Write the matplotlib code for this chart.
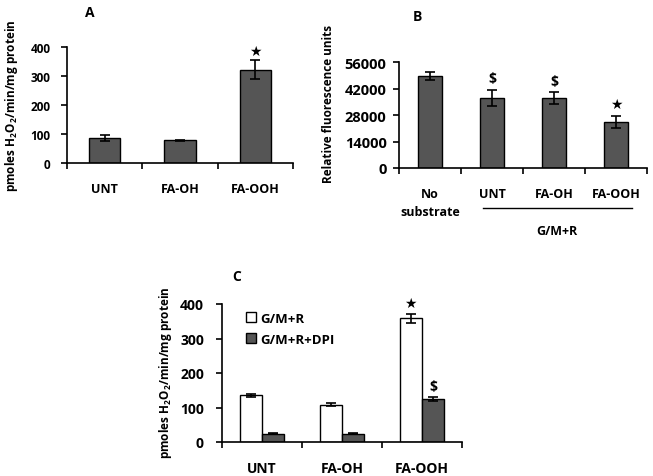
"""Three-panel H2O2 / fluorescence bar figure"""

import matplotlib
matplotlib.use('Agg')
import matplotlib.pyplot as plt
import numpy as np

plt.rcParams['font.family'] = ['Open Sans', 'DejaVu Sans']
plt.rcParams['font.weight'] = 'bold'
plt.rcParams['axes.labelweight'] = 'bold'
plt.rcParams['mathtext.default'] = 'regular'

# Panel A
a_labels = ['UNT', 'FA-OH', 'FA-OOH']
a_values = [85, 78, 322]
a_errors = [10, 3, 32]
a_marks = ['', '', '★']

# Panel B
b_labels = ['No\nsubstrate', 'UNT', 'FA-OH', 'FA-OOH']
b_values = [48600, 36900, 36900, 24200]
b_errors = [2300, 4200, 3000, 3300]
b_marks = ['', '$', '$', '★']
b_ticks = [0, 14000, 28000, 42000, 56000]

# Panel C
c_labels = ['UNT', 'FA-OH', 'FA-OOH']
c_gmr = [135, 108, 358]
c_gmr_err = [5, 5, 14]
c_dpi = [24, 24, 125]
c_dpi_err = [2, 1, 6]
c_marks_gmr = ['', '', '★']
c_marks_dpi = ['', '', '$']

W, H = 653, 477
bar_color = '#555555'
ylabel_h2o2 = 'pmoles H$_2$O$_2$/min/mg protein'


def make_axes(fig, left, right, bottom, top, ytick_fs, xtick_fs, ytick_pad):
    """Axes placed by pixel edges (top-left origin)."""
    ax = fig.add_axes([left / W, 1 - bottom / H, (right - left) / W, (bottom - top) / H])
    for s in ['top', 'right']:
        ax.spines[s].set_visible(False)
    for s in ['left', 'bottom']:
        ax.spines[s].set_linewidth(1.2)
    ax.tick_params(axis='y', direction='out', length=4, width=1.2, labelsize=ytick_fs, pad=ytick_pad)
    ax.tick_params(axis='x', which='major', length=0, labelsize=xtick_fs, pad=14)
    ax.tick_params(axis='x', which='minor', direction='out', length=4, width=1.2)
    return ax


def set_categories(ax, labels):
    n = len(labels)
    x = np.arange(n)
    ax.set_xlim(-0.5, n - 0.5)
    ax.set_xticks(x)
    ax.set_xticklabels(labels)
    ax.set_xticks(np.arange(n + 1) - 0.5, minor=True)
    return x


def place_ylabel(ax, text, px, py, left, right, bottom, top, fs):
    ax.set_ylabel(text, fontsize=fs, fontweight='bold')
    ax.yaxis.label.set_va('center')
    ax.yaxis.set_label_coords((px - left) / (right - left), (bottom - py) / (bottom - top))


def mark(ax, x, tops, marks, off, fs):
    for xi, t, m in zip(x, tops, marks):
        if m:
            ax.text(xi, t + off, m, ha='center', va='bottom', fontsize=fs,
                    fontweight='bold', family=['DejaVu Sans'] if m == '★' else ['Open Sans'])


fig = plt.figure(figsize=(W / 100, H / 100), dpi=100)
ekw = dict(elinewidth=1.2, capthick=1.2)

# ---- A
box = (67, 293, 164, 48)
ax = make_axes(fig, *box, ytick_fs=8.5, xtick_fs=9, ytick_pad=8)
x = set_categories(ax, a_labels)
ax.bar(x, a_values, width=0.42, color=bar_color, edgecolor='black', linewidth=1.0,
       yerr=a_errors, capsize=3.5, error_kw=ekw)
ax.set_ylim(0, 400)
ax.set_yticks([0, 100, 200, 300, 400])
place_ylabel(ax, ylabel_h2o2, 12, 106, *box, fs=8.5)
mark(ax, x, np.array(a_values) + np.array(a_errors), a_marks, 8, 10)
fig.text(90 / W, 1 - 13 / H, 'A', fontsize=10, fontweight='bold', ha='center', va='center')

# ---- B
box = (399, 647, 169, 63)
ax = make_axes(fig, *box, ytick_fs=10.5, xtick_fs=9, ytick_pad=5)
x = set_categories(ax, b_labels)
ax.bar(x, b_values, width=0.40, color=bar_color, edgecolor='black', linewidth=1.0,
       yerr=b_errors, capsize=3.5, error_kw=ekw)
ax.set_ylim(0, 56000)
ax.set_yticks(b_ticks)
place_ylabel(ax, 'Relative fluorescence units', 328, 104, *box, fs=8.5)
for lab in ax.get_xticklabels():
    lab.set_linespacing(1.5)
mark(ax, x, np.array(b_values) + np.array(b_errors), b_marks, 2500, 10)
tr = ax.get_xaxis_transform()
ax.plot([0.85, 3.26], [-0.377, -0.377], color='black', lw=1.0, transform=tr, clip_on=False)
ax.text(2.05, -0.594, 'G/M+R', transform=tr, ha='center', va='center', fontsize=9)
fig.text(417 / W, 1 - 17 / H, 'B', fontsize=10, fontweight='bold', ha='center', va='center')

# ---- C
box = (222, 462, 443, 305)
ax = make_axes(fig, *box, ytick_fs=10, xtick_fs=10, ytick_pad=9)
x = set_categories(ax, c_labels)
bw = 0.28
ax.bar(x - bw / 2, c_gmr, width=bw, color='white', edgecolor='black', linewidth=1.0,
       yerr=c_gmr_err, capsize=3.5, error_kw=ekw, label='G/M+R')
ax.bar(x + bw / 2, c_dpi, width=bw, color=bar_color, edgecolor='black', linewidth=1.0,
       yerr=c_dpi_err, capsize=3.5, error_kw=ekw, label='G/M+R+DPI')
ax.set_ylim(0, 400)
ax.set_yticks([0, 100, 200, 300, 400])
place_ylabel(ax, ylabel_h2o2, 166, 373, *box, fs=8.5)
mark(ax, x - bw / 2, np.array(c_gmr) + np.array(c_gmr_err), c_marks_gmr, 10, 10)
mark(ax, x + bw / 2, np.array(c_dpi) + np.array(c_dpi_err), c_marks_dpi, 10, 10)
ax.legend(loc='upper left', bbox_to_anchor=(0.05, 1.03), frameon=False, fontsize=9.5,
          handlelength=0.8, handleheight=0.8, handletextpad=0.3, labelspacing=0.6)
fig.text(237 / W, 1 - 277 / H, 'C', fontsize=10, fontweight='bold', ha='center', va='center')

plt.savefig('out.png', dpi=100)
plt.close()
